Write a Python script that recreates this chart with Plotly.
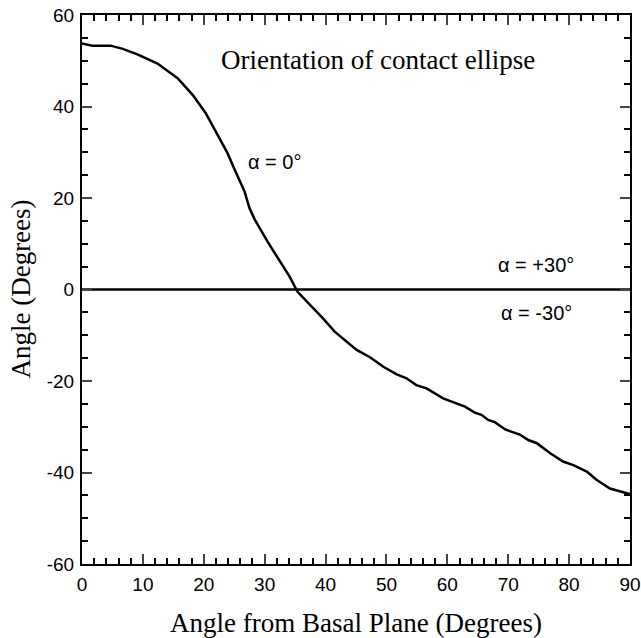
import plotly.graph_objects as go

# Curve: orientation of contact ellipse, alpha = 0 deg
angle_basal = [0, 1.7, 4.7, 6.7, 9.1, 12.4, 15.7, 18.2, 20.3, 21.5, 23.9, 25.1, 26.7, 27.5,
               28.4, 30.5, 32.5, 34.1, 35.4, 36.9, 37.9, 39.5, 41.5, 43.2, 45.1, 47.3, 49.5,
               51.6, 53.3, 54.9, 56.6, 59.3, 61.5, 62.9, 64.5, 65.6, 66.7, 67.8, 69.5, 71.9,
               73.3, 74.7, 76.9, 79.0, 80.7, 82.9, 84.5, 86.7, 88.6, 90]
angle_alpha0 = [53.8, 53.3, 53.3, 52.6, 51.4, 49.4, 46.2, 42.5, 38.6, 35.6, 29.8, 26.1, 21.4, 17.8,
                15.2, 10.4, 6.1, 2.8, -0.5, -2.6, -3.8, -6.2, -9.2, -11.0, -13.2, -14.8, -16.9,
                -18.5, -19.4, -20.9, -21.6, -23.8, -24.9, -25.6, -26.9, -27.4, -28.5, -29.0, -30.6, -31.7,
                -32.9, -33.6, -35.8, -37.6, -38.4, -39.8, -41.6, -43.5, -44.2, -44.7]

# alpha = +/-30 deg: zero line
angle_pm30_x = [0, 90]
angle_pm30_y = [0, 0]

x_ticks = [0, 10, 20, 30, 40, 50, 60, 70, 80, 90]
x_ticktext = ["0", "10", "20", "30", "40", "50", "60", "70", "80", "90"]
y_ticks = [-60, -40, -20, 0, 20, 40, 60]
y_ticktext = ["-60", "-40", "-20", "0", "20", "40", "60"]

fig = go.Figure()
fig.add_trace(go.Scatter(x=angle_basal, y=angle_alpha0, mode="lines",
                         line=dict(color="black", width=2.5), showlegend=False))
fig.add_trace(go.Scatter(x=angle_pm30_x, y=angle_pm30_y, mode="lines",
                         line=dict(color="black", width=2.5), showlegend=False))

tickfont = dict(family="Liberation Sans, Arial", size=19, color="black")
titlefont = dict(family="Liberation Serif, Times New Roman", size=27, color="black")

fig.update_xaxes(range=[0, 90], tickvals=x_ticks, ticktext=x_ticktext, ticks="inside", ticklen=10, tickwidth=2,
                 showline=True, linewidth=2, linecolor="black", mirror="ticks", automargin=False,
                 showgrid=False, zeroline=False, tickfont=tickfont, ticklabelstandoff=2,
                 minor=dict(dtick=2, ticks="inside", ticklen=6, tickwidth=2, tickcolor="black", showgrid=False),
                 title=dict(text="Angle from Basal Plane (Degrees)", font=titlefont, standoff=20))
fig.update_yaxes(range=[-60, 60], tickvals=y_ticks, ticktext=y_ticktext, ticks="inside", ticklen=10, tickwidth=2,
                 showline=True, linewidth=2, linecolor="black", mirror="ticks", automargin=False,
                 showgrid=False, zeroline=False, tickfont=tickfont, ticklabelstandoff=2,
                 minor=dict(dtick=5, ticks="inside", ticklen=6, tickwidth=2, tickcolor="black", showgrid=False))

# y-axis title as rotated text
fig.add_annotation(xref="paper", yref="paper", x=-0.113, y=0.5, text="Angle (Degrees)",
                   textangle=-90, showarrow=False, xanchor="center", yanchor="middle", font=titlefont)

annfont = dict(family="Liberation Sans, Arial", size=20, color="black")
fig.add_annotation(x=48.6, y=50.2, text="Orientation of contact ellipse", showarrow=False,
                   font=dict(family="Liberation Serif, Times New Roman", size=27, color="black"))
fig.add_annotation(x=31.6, y=27.9, text="α = 0°", showarrow=False, font=annfont)
fig.add_annotation(x=74.6, y=5.4, text="α = +30°", showarrow=False, font=annfont)
fig.add_annotation(x=74.6, y=-5.2, text="α = -30°", showarrow=False, font=annfont)

fig.update_layout(width=641, height=638, margin=dict(l=82, r=11, t=15, b=74),
                  plot_bgcolor="white", paper_bgcolor="white")
fig.write_html("out.html")
